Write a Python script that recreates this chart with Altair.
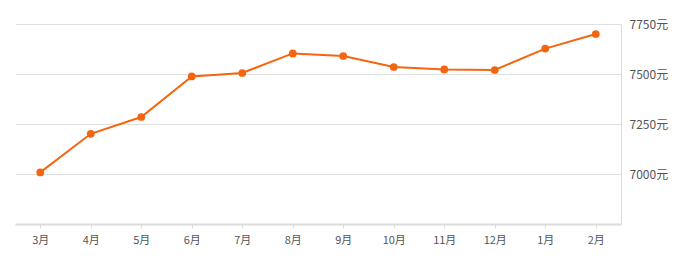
import altair as alt
import pandas as pd

months = ["3月", "4月", "5月", "6月", "7月", "8月", "9月", "10月", "11月", "12月", "1月", "2月"]
prices = [7008, 7201, 7285, 7488, 7505, 7603, 7590, 7535, 7523, 7520, 7627, 7700]
y_ticks = [7000, 7250, 7500, 7750]

df = pd.DataFrame({"month": months, "price": prices})

color = "#f5650f"
font = "Noto Sans CJK SC"

x = alt.X("month:N", sort=months, scale=alt.Scale(paddingInner=0, paddingOuter=0),
          axis=alt.Axis(title=None, labelAngle=0, domainColor="#dcdcdc", domainWidth=2,
                        tickColor="#dcdcdc", tickSize=4, labelPadding=6, labelFontSize=11,
                        labelColor="#555555", labelFont=font, grid=False))
y = alt.Y("price:Q", scale=alt.Scale(domain=[6750, 7750], nice=False, zero=False),
          axis=alt.Axis(title=None, orient="right", values=y_ticks, labelExpr="datum.value + '元'",
                        ticks=False, labelPadding=8, domainColor="#dcdcdc", gridColor="#e0e0e0",
                        labelFontSize=12, labelColor="#555555", labelFont=font))

line = alt.Chart(df).mark_line(color=color, strokeWidth=2).encode(x=x, y=y)
pts = alt.Chart(df).mark_circle(color=color, size=60, opacity=1).encode(x=x, y=y)

chart = (line + pts).properties(
    width=606, height=200,
    background="white",
    autosize=alt.AutoSizeParams(type="none"),
    padding={"left": 15, "top": 24, "right": 63, "bottom": 42},
).configure_view(strokeWidth=0, stroke="transparent")

chart.save("out.html", embed_options={"renderer": "svg", "actions": False})
